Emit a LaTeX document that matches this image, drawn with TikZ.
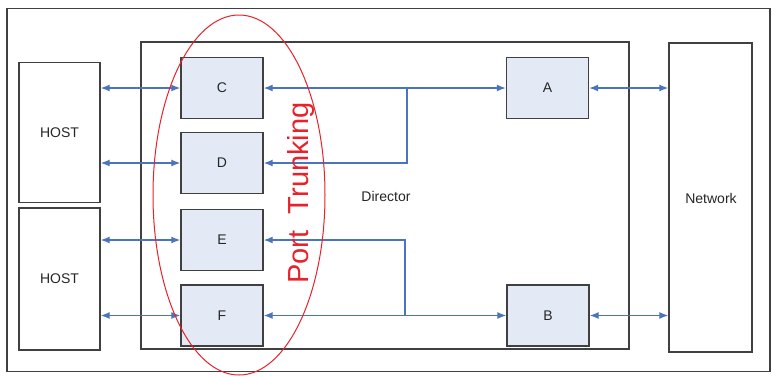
\documentclass[tikz,border=0pt]{standalone}
\usepackage{fontspec}
\setmainfont{Liberation Sans}
\usetikzlibrary{arrows.meta}
\definecolor{boxfill}{HTML}{E4EAF5}
\definecolor{boxline}{HTML}{404040}
\definecolor{arrblue}{HTML}{4A74BE}
\definecolor{trunkred}{HTML}{E8222A}
\tikzset{
  port/.style={draw=boxline, line width=1.4pt, fill=boxfill, minimum width=82pt, minimum height=61pt, inner sep=0pt, font=\fontsize{14}{16}\selectfont, text=black!85},
  plainbox/.style={draw=boxline, line width=1.4pt, fill=white, inner sep=0pt, font=\fontsize{14}{16}\selectfont, text=black!85},
  lbl/.style={font=\fontsize{14}{16}\selectfont, text=black!85, inner sep=0pt},
  link/.style={draw=arrblue, line width=1.3pt},
  tip/.style={-{Latex[length=9pt,width=7pt]}},
  tips/.style={{Latex[length=9pt,width=7pt]}-{Latex[length=9pt,width=7pt]}},
}
\begin{document}
\begin{tikzpicture}[x=1pt,y=-1pt]
\useasboundingbox (0,0) rectangle (772,376);
\fill[white] (0,0) rectangle (772,376);
% outer frame
\node[draw=boxline, line width=1.4pt, minimum width=763pt, minimum height=363pt, inner sep=0pt] (frame) at (388.5,190) {};
% director
\node[plainbox, minimum width=488pt, minimum height=307pt] (dir) at (385,195.5) {};
\node[lbl] (dirlbl) at (386,196) {Director};
% hosts
\node[plainbox, minimum width=81pt, minimum height=140pt] (h1) at (59.5,132.5) {HOST};
\node[plainbox, minimum width=81pt, minimum height=142pt] (h2) at (59.5,279) {HOST};
% network
\node[plainbox, minimum width=83pt, minimum height=309pt] (net) at (710.5,197.5) {};
\node[lbl] (netlbl) at (711,198) {Network};
% ports
\node[port] (C) at (222,88) {C};
\node[port] (D) at (222,163) {D};
\node[port] (E) at (222,240) {E};
\node[port] (F) at (222,315.5) {F};
\node[port] (A) at (547.5,88) {A};
\node[port] (B) at (548,315.5) {B};
% junctions
\coordinate (j1) at (407,88);
\coordinate (j2) at (405,315.5);
% connectors
\draw[link,tips] (h1.east |- C.west) -- (C.west);
\draw[link,tips] (h1.east |- D.west) -- (D.west);
\draw[link,tips] (h2.east |- E.west) -- (E.west);
\draw[link,tips] (h2.east |- F.west) -- (F.west);
\draw[link,tips] (C.east) -- (A.west);
\draw[link,tips] (F.east) -- (B.west);
\draw[link,tip] (j1) |- (D.east);
\draw[link,tip] (j2) |- (E.east);
\draw[link,tips] (A.east) -- (A.east -| net.west);
\draw[link,tips] (B.east) -- (B.east -| net.west);
% port trunking
\draw[trunkred, line width=1pt] (239,195) ellipse [x radius=86, y radius=180];
\node[text=trunkred, rotate=90, font=\fontsize{29}{32}\selectfont, inner sep=0pt] (pt) at (301,193) {Port\ \ Trunking};
\end{tikzpicture}
\end{document}
